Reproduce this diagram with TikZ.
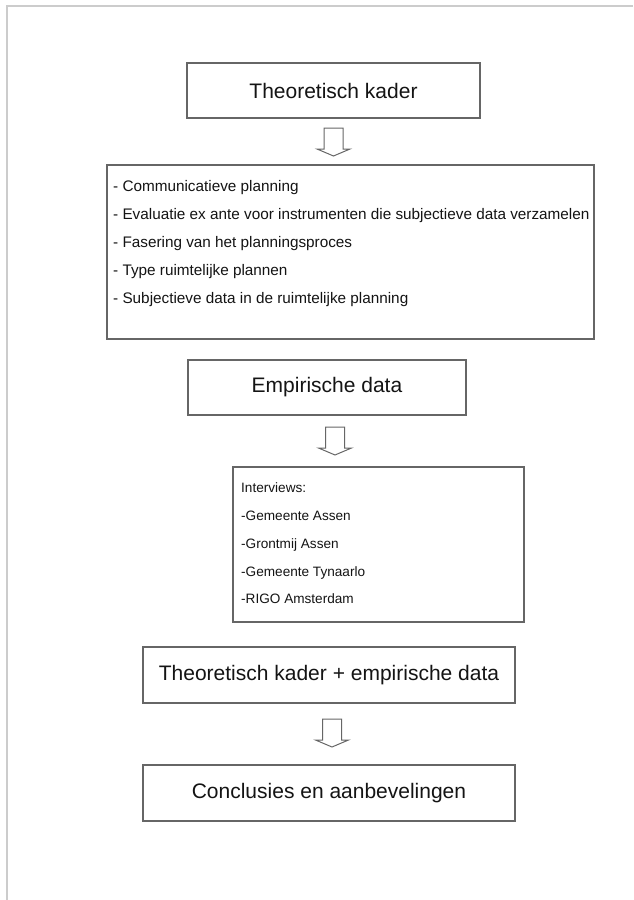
\documentclass[tikz,border=0pt]{standalone}
\usepackage{fontspec}
\setmainfont{Liberation Sans}
\begin{document}
\begin{tikzpicture}[x=1pt,y=-1pt,
  frame/.style={draw=black!20, line width=1.2pt},
  box/.style={draw=black!60, line width=1.2pt, fill=white, inner sep=0pt,
    text=black!92, font=\fontsize{21}{25}\selectfont},
  item/.style={inner sep=0pt, text=black!92, font=\fontsize{15.3}{18}\selectfont},
  small/.style={inner sep=0pt, text=black!92, font=\fontsize{13.6}{16}\selectfont},
  arrowline/.style={draw=black!60, line width=1pt, fill=white, line join=miter},
  downarrow/.pic={\draw[arrowline] (-9.5,0) -- (9.5,0) -- (9.5,21) -- (16.5,21)
    -- (0,28) -- (-16.5,21) -- (-9.5,21) -- cycle;}]
  \useasboundingbox (0,0) rectangle (633,900);
  % page edge
  \draw[frame] (7,900) -- (7,6) -- (633,6);

  % theory
  \node[box, minimum width=293pt, minimum height=55pt] (kader) at (333.5,90.5) {Theoretisch kader};
  \pic at (333.5,128) {downarrow};

  \node[box, minimum width=487pt, minimum height=174pt] (lijst) at (350.5,252) {};
  \node[item, anchor=base west] (l1) at (113,191) {- Communicatieve planning};
  \node[item, anchor=base west] (l2) at (113,219) {- Evaluatie ex ante voor instrumenten die subjectieve data verzamelen};
  \node[item, anchor=base west] (l3) at (113,247) {- Fasering van het planningsproces};
  \node[item, anchor=base west] (l4) at (113,275) {- Type ruimtelijke plannen};
  \node[item, anchor=base west] (l5) at (113,303) {- Subjectieve data in de ruimtelijke planning};

  % empirical part
  \node[box, minimum width=278pt, minimum height=55pt] (empirie) at (327,387.5) {Empirische data};
  \pic at (335,427) {downarrow};

  \node[box, minimum width=291pt, minimum height=155pt] (interviews) at (378.5,544.5) {};
  \node[small, anchor=base west] (i0) at (241,492) {Interviews:};
  \node[small, anchor=base west] (i1) at (241,520) {-Gemeente Assen};
  \node[small, anchor=base west] (i2) at (241,548) {-Grontmij Assen};
  \node[small, anchor=base west] (i3) at (241,576) {-Gemeente Tynaarlo};
  \node[small, anchor=base west] (i4) at (241,603) {-RIGO Amsterdam};

  % synthesis
  \node[box, minimum width=372pt, minimum height=56pt] (samen) at (329,675) {Theoretisch kader + empirische data};
  \pic at (332,719) {downarrow};
  \node[box, minimum width=372pt, minimum height=56pt] (conclusie) at (329,793) {Conclusies en aanbevelingen};
\end{tikzpicture}
\end{document}
